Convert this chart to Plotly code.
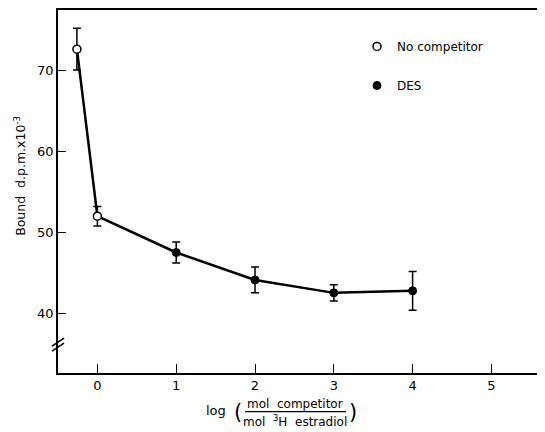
import plotly.graph_objects as go

# ---- data ----
nocomp_x = [-0.26, 0.0]
nocomp_y = [72.7, 52.0]
nocomp_err = [2.6, 1.2]

des_x = [1, 2, 3, 4]
des_y = [47.5, 44.1, 42.5, 42.75]
des_err = [1.3, 1.6, 1.0, 2.4]

x_ticks = [0, 1, 2, 3, 4, 5]
y_ticks = [40, 50, 60, 70]

FONT = "DejaVu Sans"

# the page body has an 8px margin; work in page pixels and convert
OFF = 8
W, H = 545 - OFF, 432 - OFF
L, R, T, B = 58, 545, 10, 373.3      # plot area in page pixels

fig = go.Figure()

# connecting curve through all points
fig.add_trace(go.Scatter(
    x=nocomp_x + des_x, y=nocomp_y + des_y, mode="lines",
    line=dict(color="black", width=2.5), showlegend=False, hoverinfo="skip"))

fig.add_trace(go.Scatter(
    x=nocomp_x, y=nocomp_y, mode="markers", name="No competitor",
    legendgroup="a",
    marker=dict(symbol="circle", size=8, color="white",
                line=dict(color="black", width=1.5)),
    error_y=dict(type="data", array=nocomp_err, color="black",
                 thickness=1.5, width=4)))

fig.add_trace(go.Scatter(
    x=des_x, y=des_y, mode="markers", name="DES",
    legendgroup="b",
    marker=dict(symbol="circle", size=8, color="black",
                line=dict(color="black", width=1)),
    error_y=dict(type="data", array=des_err, color="black",
                 thickness=1.5, width=4)))


def px(xp):
    return (xp - L) / (R - L)


def py(yp):
    return (B - yp) / (B - T)


shapes = []
# axis break marks
for off in (-2.5, 2.5):
    shapes.append(dict(type="line", xref="paper", yref="paper",
                       x0=px(52), y0=py(349 + off), x1=px(64), y1=py(341 + off),
                       line=dict(color="black", width=1.5)))
# fraction bar
shapes.append(dict(type="line", xref="paper", yref="paper",
                   x0=px(245), y0=py(412), x1=px(346), y1=py(412),
                   line=dict(color="black", width=1.2)))

annotations = [
    dict(text="Bound  d.p.m.x10<sup>-3</sup>", xref="paper", yref="paper",
         x=px(20), y=py(176), textangle=-90, showarrow=False,
         font=dict(family=FONT, size=12.5, color="black"),
         xanchor="center", yanchor="middle"),
    dict(text="log", xref="paper", yref="paper", x=px(216), y=py(411),
         showarrow=False, font=dict(family=FONT, size=13, color="black"),
         xanchor="center", yanchor="middle"),
    dict(text="(", xref="paper", yref="paper", x=px(238), y=py(412),
         showarrow=False, font=dict(family=FONT, size=21, color="black"),
         xanchor="center", yanchor="middle"),
    dict(text=")", xref="paper", yref="paper", x=px(353), y=py(412),
         showarrow=False, font=dict(family=FONT, size=21, color="black"),
         xanchor="center", yanchor="middle"),
    dict(text="mol  competitor", xref="paper", yref="paper", x=px(295), y=py(404),
         showarrow=False, font=dict(family=FONT, size=12, color="black"),
         xanchor="center", yanchor="middle"),
    dict(text="mol  <sup>3</sup>H  estradiol", xref="paper", yref="paper",
         x=px(295), y=py(421), showarrow=False,
         font=dict(family=FONT, size=12, color="black"),
         xanchor="center", yanchor="middle"),
]

fig.update_layout(
    width=W, height=H,
    margin=dict(l=L - OFF, r=545 - R, t=T - OFF, b=432 - B, pad=0),
    paper_bgcolor="white", plot_bgcolor="white",
    font=dict(family=FONT, size=13, color="black"),
    showlegend=True,
    legend=dict(x=px(357), y=py(32), xanchor="left", yanchor="top",
                bgcolor="rgba(0,0,0,0)", tracegroupgap=20,
                font=dict(family=FONT, size=12, color="black")),
    shapes=shapes,
    annotations=annotations,
    xaxis=dict(range=[-0.5, 5.68], tickvals=x_ticks,
               ticktext=[str(v) for v in x_ticks],
               showline=True, linecolor="black", linewidth=1.5, mirror=True,
               ticks="inside", ticklen=9, tickwidth=1.2, tickcolor="black",
               showgrid=False, zeroline=False),
    yaxis=dict(range=[32.57, 77.55], tickvals=y_ticks,
               ticktext=[str(v) for v in y_ticks],
               showline=True, linecolor="black", linewidth=1.5, mirror=False,
               ticks="inside", ticklen=8, tickwidth=1.2, tickcolor="black",
               showgrid=False, zeroline=False),
)

fig.write_html("out.html")
